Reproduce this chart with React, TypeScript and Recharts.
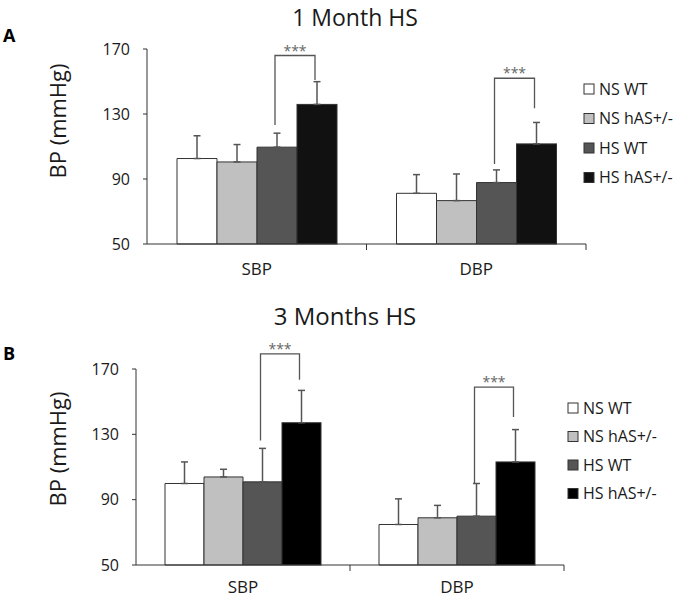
import React from 'react';
import { BarChart, Bar, XAxis, YAxis, ErrorBar } from 'recharts';

const CATEGORIES = ['SBP', 'DBP'];
const SERIES = ['NS WT', 'NS hAS+/-', 'HS WT', 'HS hAS+/-'];
const COLORS_A = ['#ffffff', '#c0c0c0', '#555555', '#111111'];
const COLORS_B = ['#ffffff', '#c0c0c0', '#555555', '#000000'];
const Y_TICKS = [50, 90, 130, 170];
const Y_MIN = 50;

// A: 1 month HS (mean, SD up)
const A_NS_WT = [102.6, 81.2];
const A_NS_WT_ERR = [14, 11.5];
const A_NS_HAS = [100.5, 76.7];
const A_NS_HAS_ERR = [10.7, 16.4];
const A_HS_WT = [109.6, 87.8];
const A_HS_WT_ERR = [8.6, 7.8];
const A_HS_HAS = [135.9, 111.6];
const A_HS_HAS_ERR = [14, 13.2];
// significance bracket: top, left end, right end
const A_BRACKET_TOP = [166, 152];
const A_BRACKET_LEFT = [123.3, 99.3];
const A_BRACKET_RIGHT = [151, 133.6];

// B: 3 months HS
const B_NS_WT = [99.9, 74.8];
const B_NS_WT_ERR = [13.2, 15.7];
const B_NS_HAS = [103.9, 78.9];
const B_NS_HAS_ERR = [4.7, 7.6];
const B_HS_WT = [100.9, 79.9];
const B_HS_WT_ERR = [20.5, 20];
const B_HS_HAS = [137.1, 113.1];
const B_HS_HAS_ERR = [19.8, 19.8];
const B_BRACKET_TOP = [179.3, 158.9];
const B_BRACKET_LEFT = [126.3, 99.9];
const B_BRACKET_RIGHT = [163.4, 140.6];

const FONT = '"Open Sans", sans-serif';
const TEXT = '#1a1a1a';

function buildRows(means: number[][], errs: number[][], top: number[], left: number[], right: number[]) {
    return CATEGORIES.map((cat, i) => {
        const row: any = { cat, brTop: top[i], brLeft: left[i], brRight: right[i] };
        means.forEach((m, s) => {
            row[`s${s}`] = m[i];
            row[`e${s}`] = [0, errs[s][i]];
        });
        return row;
    });
}

const dataA = buildRows(
    [A_NS_WT, A_NS_HAS, A_HS_WT, A_HS_HAS],
    [A_NS_WT_ERR, A_NS_HAS_ERR, A_HS_WT_ERR, A_HS_HAS_ERR],
    A_BRACKET_TOP, A_BRACKET_LEFT, A_BRACKET_RIGHT,
);
const dataB = buildRows(
    [B_NS_WT, B_NS_HAS, B_HS_WT, B_HS_HAS],
    [B_NS_WT_ERR, B_NS_HAS_ERR, B_HS_WT_ERR, B_HS_HAS_ERR],
    B_BRACKET_TOP, B_BRACKET_LEFT, B_BRACKET_RIGHT,
);

// last bar draws itself plus the *** bracket to the bar on its left
function BracketBar(props: any) {
    const { x, y, width, height, payload, fill } = props;
    const perUnit = height / (payload.s3 - Y_MIN);
    const base = y + height;
    const py = (v: number) => base - (v - Y_MIN) * perUnit;
    const lx = x - width / 2 - 2;
    const rx = x + width / 2 - 2;
    const ty = py(payload.brTop);
    return (
        <g>
            <rect x={x} y={y} width={width} height={height} fill={fill} stroke="#333" strokeWidth={1} />
            <path
                d={`M${lx},${py(payload.brLeft)}V${ty}H${rx}V${py(payload.brRight)}`}
                fill="none"
                stroke="#555"
                strokeWidth={1.3}
            />
            <text x={(lx + rx) / 2} y={ty} textAnchor="middle" fontSize={14} fill="#666" fontFamily={FONT}>
                ***
            </text>
        </g>
    );
}

function makeTick(margin: number) {
    return function CategoryTick(props: any) {
        const { x, y, payload } = props;
        const axisY = y - margin;
        const half = payload && payload.offset ? payload.offset : 0;
        return (
            <g>
                {half > 0 && <line x1={x + half} x2={x + half} y1={axisY} y2={axisY + 6} stroke="#333" />}
                <text x={x} y={y} dy="0.71em" textAnchor="middle" fontSize={17} fill={TEXT} fontFamily={FONT}>
                    {payload.value}
                </text>
            </g>
        );
    };
}

function Panel({ data, colors, height, margin, yWidth, gap, tickMargin }: any) {
    const Tick = makeTick(tickMargin);
    return (
        <BarChart
            width={675}
            height={height}
            data={data}
            margin={margin}
            barCategoryGap={gap}
            barGap={0}
            style={{ fontFamily: FONT }}
        >
            <XAxis
                dataKey="cat"
                tickLine={false}
                tickSize={0}
                tickMargin={tickMargin}
                height={30}
                stroke="#333"
                tick={<Tick />}
            />
            <YAxis
                domain={[50, 170]}
                ticks={Y_TICKS}
                width={yWidth}
                tickSize={4}
                tickMargin={13}
                stroke="#333"
                tick={{ fontSize: 16, fill: TEXT }}
            />
            {SERIES.map((name, s) => (
                <Bar
                    key={name}
                    dataKey={`s${s}`}
                    name={name}
                    fill={colors[s]}
                    stroke="#333"
                    strokeWidth={1}
                    isAnimationActive={false}
                    shape={s === 3 ? <BracketBar /> : undefined}
                >
                    <ErrorBar dataKey={`e${s}`} direction="y" stroke="#555" strokeWidth={1.5} width={3.5} />
                </Bar>
            ))}
        </BarChart>
    );
}

function Legend({ colors, x, top, step }: any) {
    return (
        <g>
            {SERIES.map((name, i) => (
                <g key={name}>
                    <rect x={x} y={top + i * step - 5} width={10} height={10} fill={colors[i]} stroke="#333" strokeWidth={1} />
                    <text x={x + 15} y={top + i * step} dy="0.36em" fontSize={16} fill={TEXT} fontFamily={FONT}>
                        {name}
                    </text>
                </g>
            ))}
        </g>
    );
}

export default function App() {
    return (
        <div style={{ position: 'absolute', left: 0, top: 0, width: 675, height: 599, background: '#fff' }}>
            <div style={{ position: 'absolute', left: 0, top: 0 }}>
                <Panel data={dataA} colors={COLORS_A} height={290} margin={{ top: 49, right: 89, left: 0, bottom: 16 }} yWidth={147} gap={30} tickMargin={19} />
            </div>
            <div style={{ position: 'absolute', left: 0, top: 290 }}>
                <Panel data={dataB} colors={COLORS_B} height={309} margin={{ top: 79, right: 111, left: 0, bottom: 4 }} yWidth={136} gap={29} tickMargin={16} />
            </div>
            <svg width={675} height={599} style={{ position: 'absolute', left: 0, top: 0, pointerEvents: 'none' }}>
                <text x={355} y={26} textAnchor="middle" fontSize={23} fill={TEXT} fontFamily={FONT}>1 Month HS</text>
                <text x={345} y={325} textAnchor="middle" fontSize={24} fill={TEXT} fontFamily={FONT}>3 Months HS</text>
                <text x={3} y={42} fontSize={18} fontWeight="bold" fill="#000" fontFamily={FONT}>A</text>
                <text x={3} y={360} fontSize={18} fontWeight="bold" fill="#000" fontFamily={FONT}>B</text>
                <text x={0} y={0} transform="translate(66,121) rotate(-90)" textAnchor="middle" fontSize={22} fill={TEXT} fontFamily={FONT}>BP (mmHg)</text>
                <text x={0} y={0} transform="translate(66,449) rotate(-90)" textAnchor="middle" fontSize={22} fill={TEXT} fontFamily={FONT}>BP (mmHg)</text>
                <Legend colors={COLORS_A} x={584} top={89} step={29.5} />
                <Legend colors={COLORS_B} x={568} top={408} step={28.5} />
            </svg>
        </div>
    );
}
